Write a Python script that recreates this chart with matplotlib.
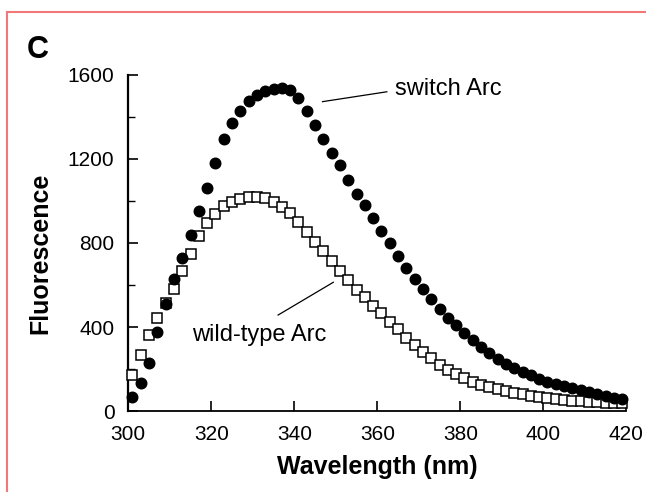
import matplotlib
matplotlib.use("Agg")
import matplotlib.pyplot as plt
from matplotlib.lines import Line2D
from matplotlib.ticker import MultipleLocator

plt.rcParams['font.family'] = ['Liberation Sans', 'DejaVu Sans']

# longitud de onda (nm), un punto cada 2 nm
wavelength = [301, 303, 305, 307, 309, 311, 313, 315, 317, 319,
              321, 323, 325, 327, 329, 331, 333, 335, 337, 339,
              341, 343, 345, 347, 349, 351, 353, 355, 357, 359,
              361, 363, 365, 367, 369, 371, 373, 375, 377, 379,
              381, 383, 385, 387, 389, 391, 393, 395, 397, 399,
              401, 403, 405, 407, 409, 411, 413, 415, 417, 419]

switch_arc = [68, 132, 230, 375, 510, 628, 730, 840, 950, 1062,
              1183, 1295, 1373, 1428, 1475, 1505, 1522, 1532, 1536, 1528,
              1490, 1430, 1362, 1295, 1230, 1170, 1100, 1035, 980, 918,
              856, 800, 738, 680, 630, 580, 535, 488, 445, 408,
              370, 338, 306, 274, 248, 226, 205, 188, 170, 152,
              138, 128, 118, 110, 100, 90, 80, 72, 64, 56]

wild_type = [170, 265, 360, 445, 515, 580, 665, 748, 835, 893,
             938, 974, 996, 1008, 1017, 1019, 1013, 995, 970, 941,
             900, 850, 806, 762, 712, 668, 624, 576, 544, 500,
             465, 425, 390, 350, 314, 282, 251, 219, 195, 176,
             156, 140, 124, 113, 103, 96, 88, 80, 72, 67,
             62, 57, 53, 50, 47, 44, 42, 40, 38, 36]

xticks = [300, 320, 340, 360, 380, 400, 420]
yticks = [0, 400, 800, 1200, 1600]

fig = plt.figure(figsize=(6.46, 4.92), dpi=100)
ax = fig.add_axes([0.1986, 0.1646, 0.7709, 0.683])

ax.plot(wavelength, wild_type, linestyle='none', marker='s', markersize=7,
        markerfacecolor='white', markeredgecolor='black', markeredgewidth=1.1,
        clip_on=False, zorder=3)
ax.plot(wavelength, switch_arc, linestyle='none', marker='o', markersize=7.6,
        color='black', clip_on=False, zorder=4)

ax.set_xlim(300, 420)
ax.set_ylim(0, 1600)
ax.set_xticks(xticks)
ax.set_yticks(yticks)
ax.yaxis.set_minor_locator(MultipleLocator(200))

for s in ['top', 'right']:
    ax.spines[s].set_visible(False)
ax.spines['left'].set_linewidth(1.6)
ax.spines['bottom'].set_linewidth(1.3)

ax.tick_params(axis='both', which='major', direction='in', length=7, width=1.2,
               labelsize=15, pad=10)
ax.tick_params(axis='y', which='minor', direction='in', length=5, width=1)

ax.set_xlabel("Wavelength (nm)", fontsize=18, fontweight='bold', labelpad=8)
ax.set_ylabel("Fluorescence", fontsize=18, fontweight='bold')
ax.yaxis.set_label_coords(-0.153, 0.47)

# etiquetas con linea guia
ax.plot([346.8, 362.3], [1473, 1520], color='black', linewidth=0.9, clip_on=False)
ax.text(364.3, 1533, "switch Arc", fontsize=17, ha='left', va='center')
ax.plot([349.4, 336.1], [613, 457], color='black', linewidth=0.9, clip_on=False)
ax.text(331.6, 362, "wild-type Arc", fontsize=17, ha='center', va='center')

fig.text(38 / 646, 1 - 50 / 492, "C", fontsize=22, fontweight='bold',
         ha='center', va='center')

# borde rojo
red = '#f07878'
fig.add_artist(Line2D([7 / 646, 1], [1 - 12 / 492, 1 - 12 / 492],
                      transform=fig.transFigure, color=red, linewidth=1.5))
fig.add_artist(Line2D([7 / 646, 7 / 646], [0, 1 - 12 / 492],
                      transform=fig.transFigure, color=red, linewidth=1.5))

fig.savefig("out.png", dpi=100)
